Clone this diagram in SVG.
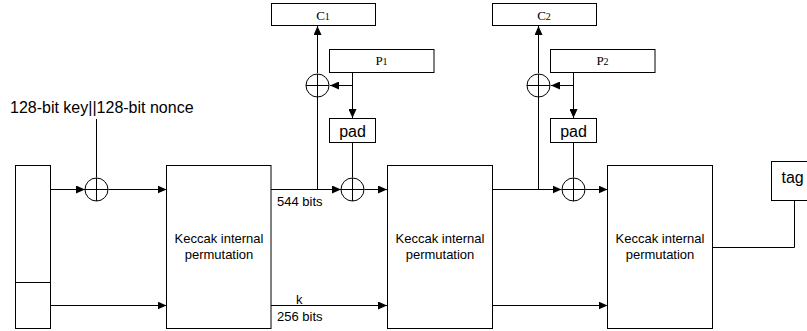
<svg xmlns="http://www.w3.org/2000/svg" width="807" height="331" viewBox="0 0 807 331">
<defs>
<marker id="arr" markerUnits="userSpaceOnUse" markerWidth="10" markerHeight="8" refX="9" refY="4" orient="auto">
<path d="M0,0 L9,4 L0,8 Z" fill="#000"/>
</marker>
</defs>
<style>
.box{fill:#fff;stroke:#000;stroke-width:1}
.ln{fill:none;stroke:#000;stroke-width:1}
.ar{fill:none;stroke:#000;stroke-width:1;marker-end:url(#arr)}
.sans{font-family:"Liberation Sans",Arial,sans-serif;fill:#000}
.serif{font-family:"Liberation Serif","Times New Roman",serif;fill:#000}
.big{font-size:16px}
.mid{font-size:13px}
</style>
<rect width="807" height="331" fill="#fff"/>

<g id="connectors">
<line class="ln" x1="96.5" y1="119" x2="96.5" y2="177.5"/>
<line class="ar" x1="50.5" y1="189.5" x2="85" y2="189.5"/>
<line class="ar" x1="108.5" y1="189.5" x2="166.5" y2="189.5"/>
<line class="ar" x1="50.5" y1="305.5" x2="166.5" y2="305.5"/>

<line class="ar" x1="271" y1="189.5" x2="341" y2="189.5"/>
<line class="ln" x1="317.5" y1="189.5" x2="317.5" y2="97"/>
<line class="ar" x1="317.5" y1="73" x2="317.5" y2="26"/>
<line class="ar" x1="352.5" y1="72.5" x2="352.5" y2="118"/>
<line class="ar" x1="352.5" y1="85.5" x2="330" y2="85.5"/>
<line class="ln" x1="352.5" y1="142.5" x2="352.5" y2="177.5"/>
<line class="ar" x1="364.5" y1="189.5" x2="387" y2="189.5"/>
<line class="ar" x1="271" y1="305.5" x2="387" y2="305.5"/>

<line class="ar" x1="492.5" y1="189.5" x2="561.5" y2="189.5"/>
<line class="ln" x1="538.5" y1="189.5" x2="538.5" y2="97"/>
<line class="ar" x1="538.5" y1="73" x2="538.5" y2="26"/>
<line class="ar" x1="573.5" y1="72.5" x2="573.5" y2="118"/>
<line class="ar" x1="573.5" y1="85.5" x2="551" y2="85.5"/>
<line class="ln" x1="573.5" y1="142.5" x2="573.5" y2="177.5"/>
<line class="ar" x1="585.5" y1="189.5" x2="607.5" y2="189.5"/>
<line class="ar" x1="492.5" y1="305.5" x2="607.5" y2="305.5"/>

<polyline class="ln" points="712.5,247.5 794.5,247.5 794.5,200.5"/>
</g>

<g id="keynonce-label">
<text class="sans big" x="10" y="112.5">128-bit key||128-bit nonce</text>
</g>

<g id="state">
<rect class="box" x="15.5" y="165.5" width="35" height="163"/>
<line class="ln" x1="15.5" y1="282.5" x2="50.5" y2="282.5"/>
</g>

<g id="xor0">
<circle class="box" cx="96.5" cy="189.5" r="11.5"/>
<path class="ln" d="M85,189.5 H108 M96.5,178 V201"/>
</g>

<g id="keccak1">
<rect class="box" x="166.5" y="165.5" width="104.5" height="163"/>
<text class="sans mid" x="219" y="243" text-anchor="middle">Keccak internal</text>
<text class="sans mid" x="219" y="259" text-anchor="middle">permutation</text>
</g>

<g id="labels1">
<text class="sans mid" x="277" y="205.5">544 bits</text>
<text class="sans mid" x="296" y="304">k</text>
<text class="sans mid" x="277" y="320.5">256 bits</text>
</g>

<g id="c1">
<rect class="box" x="271.5" y="3.5" width="104" height="22"/>
<text class="serif" x="323" y="19.5" text-anchor="middle" font-size="13">C<tspan font-size="10">1</tspan></text>
</g>
<g id="xor1a">
<circle class="box" cx="317.5" cy="85.5" r="11.5"/>
<path class="ln" d="M306,85.5 H329 M317.5,74 V97"/>
</g>
<g id="p1">
<rect class="box" x="329.5" y="49.5" width="104.5" height="23"/>
<text class="serif" x="381.5" y="65" text-anchor="middle" font-size="13">P<tspan font-size="10">1</tspan></text>
</g>
<g id="pad1">
<rect class="box" x="329.5" y="118.5" width="46" height="24"/>
<text class="sans big" x="352.5" y="136.5" text-anchor="middle">pad</text>
</g>
<g id="xor1b">
<circle class="box" cx="352.5" cy="189.5" r="11.5"/>
<path class="ln" d="M341,189.5 H364 M352.5,178 V201"/>
</g>

<g id="keccak2">
<rect class="box" x="387.5" y="165.5" width="105" height="163"/>
<text class="sans mid" x="440" y="243" text-anchor="middle">Keccak internal</text>
<text class="sans mid" x="440" y="259" text-anchor="middle">permutation</text>
</g>

<g id="c2">
<rect class="box" x="492.5" y="3.5" width="104" height="22"/>
<text class="serif" x="544" y="19.5" text-anchor="middle" font-size="13">C<tspan font-size="10">2</tspan></text>
</g>
<g id="xor2a">
<circle class="box" cx="538.5" cy="85.5" r="11.5"/>
<path class="ln" d="M527,85.5 H550 M538.5,74 V97"/>
</g>
<g id="p2">
<rect class="box" x="550.5" y="49.5" width="104.5" height="23"/>
<text class="serif" x="602.5" y="65" text-anchor="middle" font-size="13">P<tspan font-size="10">2</tspan></text>
</g>
<g id="pad2">
<rect class="box" x="550.5" y="118.5" width="46" height="24"/>
<text class="sans big" x="573.5" y="136.5" text-anchor="middle">pad</text>
</g>
<g id="xor2b">
<circle class="box" cx="573.5" cy="189.5" r="11.5"/>
<path class="ln" d="M562,189.5 H585 M573.5,178 V201"/>
</g>

<g id="keccak3">
<rect class="box" x="607.5" y="165.5" width="105" height="163"/>
<text class="sans mid" x="660" y="243" text-anchor="middle">Keccak internal</text>
<text class="sans mid" x="660" y="259" text-anchor="middle">permutation</text>
</g>

<g id="tag">
<rect class="box" x="771.5" y="161.5" width="40" height="39"/>
<text class="sans big" x="781.5" y="183">tag</text>
</g>
</svg>
